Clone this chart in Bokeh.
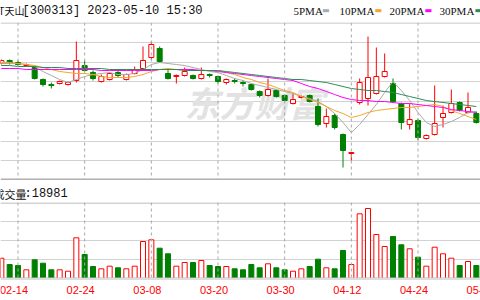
from bokeh.plotting import figure
from bokeh.models import Range1d, FixedTicker, Grid, Span, Label, ColumnDataSource
from bokeh.layouts import column
from bokeh.embed import file_html
from bokeh.resources import INLINE

# ---------------- data ----------------
dates = ["02-10", "02-13", "02-14", "02-15", "02-16", "02-17", "02-20", "02-21", "02-22", "02-23",
         "02-24", "02-27", "02-28", "03-01", "03-02", "03-03", "03-06", "03-07", "03-08", "03-09",
         "03-10", "03-13", "03-14", "03-15", "03-16", "03-17", "03-20", "03-21", "03-22", "03-23",
         "03-24", "03-27", "03-28", "03-29", "03-30", "03-31", "04-03", "04-04", "04-06", "04-07",
         "04-10", "04-11", "04-12", "04-13", "04-14", "04-17", "04-18", "04-19", "04-20", "04-21",
         "04-24", "04-25", "04-26", "04-27", "04-28", "05-04", "05-05", "05-08"]

open_p = [7.37, 7.40, 7.38, 7.35, 7.33, 7.21, 7.16, 7.17, 7.16, 7.20,
          7.35, 7.28, 7.19, 7.21, 7.28, 7.21, 7.27, 7.32, 7.43, 7.52,
          7.27, 7.24, 7.25, 7.25, 7.22, 7.26, 7.24, 7.18, 7.20, 7.18,
          7.16, 7.09, 7.05, 7.10, 7.05, 6.97, 7.03, 7.05, 6.94, 6.77,
          6.85, 6.66, 6.47, 6.98, 7.02, 7.07, 7.24, 7.17, 6.97, 6.76,
          6.80, 6.62, 6.66, 6.83, 6.88, 6.98, 6.88, 6.87]
high_p = [7.41, 7.41, 7.40, 7.37, 7.35, 7.22, 7.18, 7.20, 7.19, 7.59,
          7.40, 7.30, 7.26, 7.28, 7.30, 7.27, 7.34, 7.54, 7.59, 7.54,
          7.32, 7.26, 7.33, 7.26, 7.33, 7.27, 7.25, 7.22, 7.22, 7.20,
          7.17, 7.10, 7.22, 7.11, 7.06, 7.07, 7.05, 7.06, 7.02, 6.92,
          6.87, 6.67, 6.48, 7.22, 7.64, 7.53, 7.47, 7.22, 6.98, 6.97,
          6.82, 6.66, 7.15, 6.95, 7.11, 6.99, 7.08, 6.89]
low_p = [7.36, 7.36, 7.35, 7.34, 7.21, 7.14, 7.12, 7.16, 7.15, 7.18,
         7.29, 7.20, 7.18, 7.20, 7.23, 7.20, 7.26, 7.31, 7.41, 7.38,
         7.21, 7.17, 7.24, 7.21, 7.21, 7.23, 7.17, 7.16, 7.17, 7.14,
         7.10, 7.03, 7.04, 7.03, 6.99, 6.96, 7.02, 6.98, 6.74, 6.73,
         6.71, 6.33, 6.40, 6.96, 6.95, 7.06, 7.23, 6.98, 6.71, 6.71,
         6.60, 6.61, 6.65, 6.73, 6.87, 6.89, 6.87, 6.77]
close_p = [7.40, 7.37, 7.36, 7.36, 7.22, 7.16, 7.15, 7.19, 7.18, 7.40,
           7.30, 7.22, 7.24, 7.27, 7.25, 7.26, 7.31, 7.40, 7.56, 7.39,
           7.22, 7.25, 7.29, 7.22, 7.26, 7.25, 7.19, 7.21, 7.19, 7.17,
           7.11, 7.05, 7.11, 7.04, 7.00, 7.01, 7.04, 6.99, 6.76, 6.84,
           6.73, 6.50, 6.48, 7.18, 7.23, 7.24, 7.29, 6.99, 6.78, 6.81,
           6.63, 6.65, 6.77, 6.87, 6.97, 6.90, 6.93, 6.78]
volume = [20300, 14000, 13000, 8700, 18700, 15300, 8700, 8700, 7300, 40700,
          24000, 12000, 9700, 12300, 10700, 9700, 12300, 37000, 38700, 30300,
          24700, 12300, 16000, 16000, 18000, 13000, 12000, 12000, 9700, 8700,
          14000, 10700, 14700, 10700, 8700, 7300, 9700, 12000, 19300, 10700,
          9700, 28000, 14000, 64700, 70000, 44000, 32000, 42000, 33700, 29700,
          21300, 12300, 31300, 24700, 20300, 13000, 17000, 13000]
ma5 = [7.37, 7.37, 7.37, 7.36, 7.34, 7.29, 7.25, 7.21, 7.18, 7.21,
       7.24, 7.26, 7.27, 7.28, 7.26, 7.26, 7.27, 7.31, 7.36, 7.38,
       7.37, 7.36, 7.35, 7.33, 7.31, 7.29, 7.28, 7.25, 7.22, 7.20,
       7.17, 7.15, 7.13, 7.11, 7.09, 7.07, 7.04, 7.02, 6.99, 6.94,
       6.87, 6.78, 6.68, 6.76, 6.86, 6.96, 7.08, 7.19, 7.10, 7.00,
       6.88, 6.78, 6.74, 6.76, 6.79, 6.83, 6.88, 6.89]
ma10 = [7.38, 7.38, 7.37, 7.36, 7.35, 7.33, 7.31, 7.29, 7.28, 7.27,
        7.27, 7.26, 7.24, 7.23, 7.23, 7.23, 7.24, 7.26, 7.29, 7.31,
        7.32, 7.31, 7.31, 7.30, 7.30, 7.30, 7.30, 7.28, 7.26, 7.23,
        7.21, 7.18, 7.16, 7.13, 7.10, 7.08, 7.04, 7.01, 6.98, 6.94,
        6.90, 6.87, 6.83, 6.85, 6.88, 6.90, 6.91, 6.92, 6.93, 6.93,
        6.94, 6.95, 6.96, 6.94, 6.90, 6.87, 6.84, 6.81]
ma20 = [7.32, 7.32, 7.32, 7.31, 7.31, 7.31, 7.31, 7.31, 7.31, 7.31,
        7.31, 7.31, 7.30, 7.30, 7.30, 7.30, 7.30, 7.30, 7.30, 7.31,
        7.31, 7.31, 7.31, 7.31, 7.30, 7.30, 7.29, 7.28, 7.27, 7.26,
        7.25, 7.24, 7.23, 7.22, 7.21, 7.20, 7.17, 7.14, 7.12, 7.09,
        7.06, 7.03, 7.01, 7.00, 7.00, 6.99, 6.99, 6.98, 6.97, 6.97,
        6.96, 6.95, 6.94, 6.93, 6.91, 6.90, 6.89, 6.88]
ma30 = [7.35, 7.35, 7.34, 7.34, 7.34, 7.33, 7.33, 7.33, 7.32, 7.32,
        7.32, 7.32, 7.32, 7.31, 7.31, 7.31, 7.31, 7.31, 7.31, 7.31,
        7.31, 7.31, 7.30, 7.30, 7.30, 7.30, 7.30, 7.29, 7.28, 7.27,
        7.26, 7.25, 7.24, 7.23, 7.22, 7.21, 7.21, 7.20, 7.19, 7.18,
        7.16, 7.14, 7.12, 7.11, 7.10, 7.10, 7.09, 7.08, 7.06, 7.04,
        7.02, 7.00, 6.99, 6.98, 6.97, 6.96, 6.95, 6.94]

tick_labels = ["02-14", "02-24", "03-08", "03-20", "03-30", "04-12", "04-24", "05-09"]
tick_index = [2, 10, 18, 26, 34, 42, 50, 58]
ma_names = ["5PMA", "10PMA", "20PMA", "30PMA"]
stock_name = "*ST天山"
stock_info = "[300313] 2023-05-10 15:30"
vol_name = "成交量"
vol_last = ":18981"
watermark = "东方财富"

# ---------------- styles / layout ----------------
RED = "#ff0000"
GREEN = "#008000"
MA_COLORS = ["#aaaaaa", "#f5a623", "#ff00ff", "#2e8b57"]
W = 480
X0, X1 = -0.10, 57.50
P_BOT, P_TOP = 6.20, 7.78      # price panel, page rows 22..180
V_TOP = 76000                  # volume panel, page rows 202..278
CJK = "Noto Sans CJK SC"
GRID_H = "#d2d2d2"
GRID_V = "#a8a8a8"


def xd(px):
    return X0 + px * (X1 - X0) / W


def y1(py):  # page pixel -> price
    return P_TOP - (py - 22) * (P_TOP - P_BOT) / 158.0


n = len(dates)
xs = list(range(n))
up = [c > o for o, c in zip(open_p, close_p)]
src = ColumnDataSource(dict(
    x=xs, high=high_p, low=low_p, vol=volume,
    top=[max(o, c) for o, c in zip(open_p, close_p)],
    bottom=[min(o, c) for o, c in zip(open_p, close_p)],
    color=[RED if u else GREEN for u in up],
    fill=["white" if u else GREEN for u in up],
))

common = dict(width=W, toolbar_location=None, output_backend="svg",
              x_axis_type=None, y_axis_type=None,
              min_border_left=0, min_border_right=0, min_border_top=0, min_border_bottom=0,
              outline_line_color=None, background_fill_color="white", border_fill_color="white")

xr = Range1d(X0, X1)
head = figure(height=22, x_range=xr, y_range=Range1d(0, 22), **common)        # page 0..22
p1 = figure(height=158, x_range=xr, y_range=Range1d(P_BOT, P_TOP), **common)  # page 22..180
vhead = figure(height=22, x_range=xr, y_range=Range1d(0, 22), **common)       # page 180..202
p2 = figure(height=76, x_range=xr, y_range=Range1d(0, V_TOP), **common)       # page 202..278
foot = figure(height=22, x_range=xr, y_range=Range1d(0, 22), **common)        # page 278..300

# horizontal grids
p1.add_layout(Grid(dimension=1, ticker=FixedTicker(ticks=[P_BOT + k * (P_TOP - P_BOT) / 8 for k in range(1, 8)]),
                   grid_line_color=GRID_H, grid_line_width=1))
p2.add_layout(Grid(dimension=1, ticker=FixedTicker(ticks=[V_TOP * k / 4 for k in range(1, 4)]),
                   grid_line_color=GRID_H, grid_line_width=1))

# vertical dashed date lines (each panel's frame limits them)
for p in (p1, p2):
    for t in tick_index:
        p.add_layout(Span(location=t, dimension="height", line_color=GRID_V,
                          line_width=1, line_dash="3 3"))

# panel borders
p1.add_layout(Span(location=P_TOP - 0.005, dimension="width", line_color="#b8b8b8", line_width=1))
p1.add_layout(Span(location=P_BOT + 0.01, dimension="width", line_color="#b0b0b0", line_width=2))
p2.add_layout(Span(location=V_TOP - 500, dimension="width", line_color="#a8a8a8", line_width=1))
p2.add_layout(Span(location=0, dimension="width", line_color="#bcbcbc", line_width=2))
foot.add_layout(Span(location=22, dimension="width", line_color="#bcbcbc", line_width=2))

# watermark
p1.add_layout(Label(x=xd(184), y=y1(101), text=watermark, text_font=CJK, text_font_size="35px",
                    text_font_style="bold italic", text_color="#e2e2e2", text_baseline="middle",
                    level="underlay"))

# candles
p1.segment(x0="x", y0="low", x1="x", y1="high", line_color="color", line_width=1, source=src)
p1.vbar(x="x", width=0.6, top="top", bottom="bottom", fill_color="fill", line_color="color",
        line_width=1, source=src)

# moving averages
for vals, col in zip([ma5, ma10, ma20, ma30], MA_COLORS):
    p1.line(xs, vals, line_color=col, line_width=1)

# volume
p2.vbar(x="x", width=0.6, top="vol", bottom=0, fill_color="fill", line_color="color",
        line_width=1, source=src)

# title & legend (head strip, y measured up from its bottom)
head.add_layout(Label(x=xd(24), y=12, text=stock_name, text_font=CJK, text_font_size="10px",
                      text_color="#111111", text_align="right", text_baseline="middle"))
head.add_layout(Label(x=xd(22), y=12, text=stock_info, text_font="Liberation Mono",
                      text_font_size="12px", text_color="#111111", text_baseline="middle"))
leg_x = [293, 339, 389, 439]
for name, col, lx in zip(ma_names, MA_COLORS, leg_x):
    head.add_layout(Label(x=xd(lx), y=12, text=name, text_font="Liberation Serif",
                          text_font_size="11px", text_color="#111111", text_baseline="middle"))
    head.add_layout(Label(x=xd(lx + len(name) * 6.4 + 3), y=12, text="\u25ac", text_font="DejaVu Sans",
                          text_font_size="8px", text_color=col, text_baseline="middle"))

# volume title
vhead.add_layout(Label(x=xd(26), y=9, text=vol_name, text_font=CJK, text_font_size="11px",
                       text_color="#111111", text_align="right", text_baseline="middle"))
vhead.add_layout(Label(x=xd(24), y=9, text=vol_last, text_font="Liberation Mono",
                       text_font_size="12px", text_color="#111111", text_baseline="middle"))

# date labels (sit ~4px left of their dashed lines)
for t, s in zip(tick_index, tick_labels):
    foot.add_layout(Label(x=t, y=11, x_offset=-4, text=s, text_font="Liberation Sans",
                          text_font_size="11px", text_color=RED, text_align="center",
                          text_baseline="middle"))

layout = column(head, p1, vhead, p2, foot, spacing=0)
open("out.html", "w").write(file_html(layout, INLINE))
